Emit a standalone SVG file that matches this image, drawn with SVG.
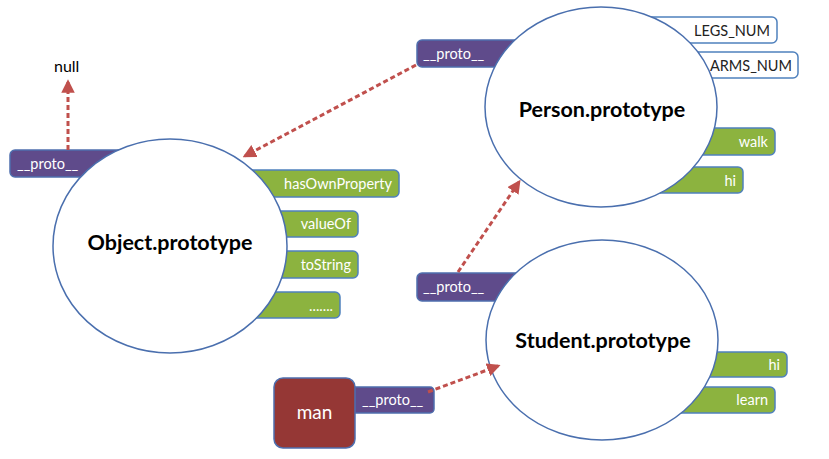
<svg xmlns="http://www.w3.org/2000/svg" width="829" height="459" viewBox="0 0 829 459">
<style>
.proto{fill:#5f4b8b;stroke:#4f6fae;stroke-width:1.5}
.prop{fill:#8cb33f;stroke:#4f81bd;stroke-width:1.5}
.cst{fill:#ffffff;stroke:#4f81bd;stroke-width:1.5}
.ell{fill:#ffffff;stroke:#4a6fae;stroke-width:1.5}
.lbl{font-family:Lato,"Liberation Sans",sans-serif;font-size:14.5px;fill:#ffffff}
.dk{fill:#222222}
.title{font-family:Lato,"Liberation Sans",sans-serif;font-size:21.5px;font-weight:bold;fill:#000000;text-anchor:middle}
.conn{stroke:#c0504d;stroke-width:3;stroke-dasharray:5 3;fill:none}
</style>
<defs>
<marker id="ah" viewBox="0 0 10 10" refX="8" refY="5" markerWidth="4.5" markerHeight="4.5" orient="auto" markerUnits="strokeWidth">
<path d="M0,0 L10,5 L0,10 z" fill="#c0504d"/>
</marker>
</defs>
<rect width="829" height="459" fill="#ffffff"/>

<g id="null">
<text x="54" y="72" font-family="Lato,'Liberation Sans',sans-serif" font-size="16" fill="#000">null</text>
</g>

<g id="object">
<rect class="proto" x="10" y="150" width="130" height="27" rx="5"/>
<text class="lbl" x="17" y="169">__proto__</text>
<rect class="prop" x="200" y="170" width="199" height="27" rx="5"/>
<text class="lbl" x="392" y="189" text-anchor="end">hasOwnProperty</text>
<rect class="prop" x="200" y="211" width="158" height="26" rx="5"/>
<text class="lbl" x="351" y="229" text-anchor="end">valueOf</text>
<rect class="prop" x="200" y="251" width="158" height="27" rx="5"/>
<text class="lbl" x="351" y="270" text-anchor="end">toString</text>
<rect class="prop" x="200" y="292" width="140" height="26" rx="5"/>
<text class="lbl" x="333" y="311" text-anchor="end">.......</text>
<ellipse class="ell" cx="170" cy="246" rx="117" ry="107"/>
<text class="title" x="170" y="250">Object.prototype</text>
</g>

<g id="person">
<rect class="proto" x="417" y="40" width="110" height="27" rx="5"/>
<text class="lbl" x="423" y="59">__proto__</text>
<rect class="cst" x="640" y="17" width="137" height="26" rx="5"/>
<text class="lbl dk" x="770" y="36" text-anchor="end">LEGS_NUM</text>
<rect class="cst" x="660" y="52" width="138" height="26" rx="5"/>
<text class="lbl dk" x="792" y="71" text-anchor="end">ARMS_NUM</text>
<rect class="prop" x="650" y="128" width="125" height="27" rx="5"/>
<text class="lbl" x="768" y="147" text-anchor="end">walk</text>
<rect class="prop" x="640" y="167" width="103" height="26" rx="5"/>
<text class="lbl" x="736" y="186" text-anchor="end">hi</text>
<ellipse class="ell" cx="601" cy="107" rx="116" ry="100"/>
<text class="title" x="602" y="117">Person.prototype</text>
</g>

<g id="student">
<rect class="proto" x="417" y="273" width="110" height="28" rx="5"/>
<text class="lbl" x="423" y="292">__proto__</text>
<rect class="prop" x="660" y="352" width="127" height="25" rx="5"/>
<text class="lbl" x="780" y="370" text-anchor="end">hi</text>
<rect class="prop" x="640" y="387" width="135" height="26" rx="5"/>
<text class="lbl" x="768" y="405" text-anchor="end">learn</text>
<ellipse class="ell" cx="602" cy="340" rx="116" ry="100"/>
<text class="title" x="603" y="348">Student.prototype</text>
</g>

<g id="man">
<rect class="proto" x="340" y="387" width="94" height="26" rx="4"/>
<text class="lbl" x="362" y="405">__proto__</text>
<rect x="274" y="378" width="81" height="70" rx="9" fill="#953735" stroke="#4f6fae" stroke-width="1.5"/>
<text x="314.5" y="419" text-anchor="middle" font-family="Lato,'Liberation Sans',sans-serif" font-size="19" fill="#ffffff">man</text>
</g>

<g id="connectors">
<line class="conn" x1="68" y1="150" x2="68" y2="82" marker-end="url(#ah)"/>
<line class="conn" x1="416" y1="65" x2="245" y2="156" marker-end="url(#ah)"/>
<line class="conn" x1="458" y1="272" x2="519" y2="182" marker-end="url(#ah)"/>
<line class="conn" x1="428" y1="392" x2="498" y2="366" marker-end="url(#ah)"/>
</g>
</svg>
